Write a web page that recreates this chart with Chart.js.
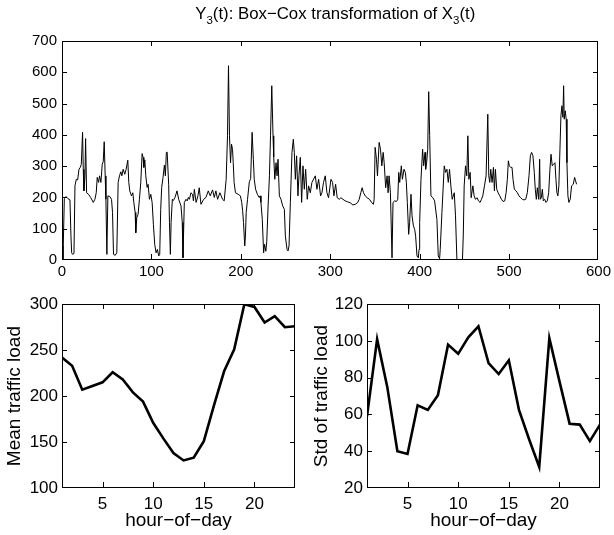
<!DOCTYPE html>
<html>
<head>
<meta charset="utf-8">
<script src="https://cdn.jsdelivr.net/npm/chart.js@4/dist/chart.umd.min.js"></script>
<style>
  html, body { margin: 0; background: #fff; overflow: hidden; }
  #wrap { position: relative; width: 614px; height: 535px; }
  canvas { position: absolute; }
</style>
</head>
<body>
<div id="wrap">
  <canvas id="seriesChart" width="614" height="290" style="left:0;top:0"></canvas>
  <canvas id="meanChart" width="307" height="245" style="left:0;top:290px"></canvas>
  <canvas id="stdChart" width="307" height="245" style="left:307px;top:290px"></canvas>
</div>
<script>
// Y3(t) series: sample index and transformed load
var seriesT = [
  0,1.1,2.6,4.5,6.7,8.9,10,10.8,11.9,13.4,
  14.5,16,17.5,19,20.4,21.6,23,23.8,24.5,25.7,
  26.4,27.5,29.7,32,35,36.8,38.3,39.4,40.9,42,
  43.5,45,46.1,47.2,48.3,49.1,50.2,51.3,53.5,55.4,
  56.5,57.6,59.5,61.3,62.8,64.3,65.8,66.9,68.4,70.2,
  71.7,73.6,74.7,75.8,77.7,79.2,80.3,81.8,82.5,83.6,
  85.1,86.6,88.1,89.6,90.7,91.5,92.6,93.7,95.2,96.3,
  97.8,99.3,100.8,102.2,103.7,105.2,106.7,108.2,109.3,110.4,
  111.5,113,114.5,115.6,116.7,117.6,119.3,120.2,121.2,122,
  123.4,124.5,126.4,128.6,130.5,133.1,134.5,135.3,136.8,138.7,
  140,141.3,142.5,144.2,146,147,148,150,152,153.5,
  155.4,158.4,161,163.6,165.8,168.4,170.3,172.1,174,176.6,
  179.6,181.4,183.6,185.1,186.2,187.3,188.5,189.6,190.7,191.5,
  192.5,194,197,199.5,201,202,203,204.4,205.2,206,
  207.5,209.5,211,212.6,214,215,216.5,218.5,220.5,221.5,
  222.5,224,225.5,226.5,228,229,230.5,232,233.2,234.6,
  236,236.8,238,239.4,240.5,241.6,243.1,244.9,246.8,248.7,
  249.8,251.7,252.8,253.9,255.4,257.2,258.7,259.8,261,262.4,
  263.9,265,266.5,268,269.5,271,272.5,274.3,275.8,277.7,
  279.5,283.3,285.1,287,289.2,290.7,292.5,294.4,296.3,298.1,
  300.8,302.6,304.1,306,307.8,310.1,311.9,314.2,316.7,319.4,
  322.3,325.3,327.9,330.5,332.4,334.2,335.7,337.2,339.1,341.3,
  343.9,346.5,348.3,349.1,350.2,351.7,352.8,354.7,356.2,357.7,
  359.2,360.3,362,363.6,364.7,365.8,367.3,369.1,370.2,372.1,
  374,375.5,376.6,377.7,379.5,380.7,382.5,384,385.1,386.2,
  387.7,388.8,390.3,391.5,393,394.4,395.5,397,398.5,399.3,
  400,401.5,403.3,404.5,406,406.7,407.8,409,410.1,411.2,
  412.6,414.8,416.7,419.3,420.8,422.3,423,424.9,427.5,429,
  430.5,432,433.4,434.9,436.4,438.7,440.1,442,447.5,448.8,
  449.8,451.3,452.7,453.9,455,456.5,457.6,459.5,460.9,462.4,
  464.3,465.8,467.6,469.1,470.6,472.5,474.3,476.2,477.3,478.4,
  479.5,481,482.5,483.6,484.7,486.2,487.7,489.6,491.5,493.3,
  495.2,496.7,498.1,499.2,500.3,501.8,503.3,504.4,505.9,507.8,
  509.3,511.1,513,514.8,516.7,518.6,520.4,522.3,523.8,525.2,
  526.7,528.2,529.3,530.5,531.6,533.1,534.2,534.9,536.1,537.2,
  538.3,539.8,541.3,542.8,544.3,545.7,546.9,548.3,549.8,551.3,
  552.4,553.5,554.6,555.7,556.9,558,559.1,560.2,561,561.7,
  562.8,563.9,564.7,565.8,566.9,568.4,569.9,571.8,573.3,574.4,
  575.5
];
var seriesY = [
  45,4,196,203,196,192,77,23,18,21,
  237,258,256,290,296,306,408,290,221,269,
  388,215,210,200,184,194,215,264,248,269,
  248,306,314,378,269,194,18,205,203,194,
  152,18,15,23,248,269,282,269,290,274,
  290,319,248,221,205,215,184,152,87,135,
  146,194,248,340,328,296,320,269,232,242,
  194,210,184,114,50,23,34,13,18,162,
  232,264,303,269,344,345,242,120,18,120,
  194,190,200,221,194,173,120,7,184,194,
  189,200,194,215,210,189,226,184,205,231,
  178,194,200,221,205,224,200,221,194,215,
  194,189,258,397,621,397,311,370,354,311,
  248,215,210,205,184,158,120,45,80,152,
  194,250,260,408,322,258,226,210,200,205,
  184,130,23,50,28,60,173,269,397,557,
  397,329,258,311,269,322,205,194,173,162,
  77,34,29,45,184,344,386,344,258,333,
  205,269,328,184,301,226,290,194,237,215,
  248,269,226,258,205,215,248,269,215,199,
  258,248,205,242,199,194,199,194,189,186,
  183,176,178,183,194,215,231,215,205,199,
  194,183,178,194,360,322,269,376,354,301,
  344,311,231,269,215,269,215,7,184,189,
  187,194,280,248,301,258,290,280,248,184,
  82,120,210,141,109,98,77,13,7,34,
  120,258,354,301,344,290,311,354,538,397,
  205,199,189,130,13,4,34,152,301,280,
  290,248,290,237,194,215,141,-30,-30,80,
  237,301,269,397,258,280,199,237,205,194,
  199,189,184,194,205,237,269,466,269,248,
  290,248,296,221,290,226,215,205,194,187,
  189,215,258,317,301,296,296,258,226,221,
  215,205,199,194,192,194,215,269,333,344,
  333,280,226,194,231,194,322,194,199,226,
  189,194,184,189,215,290,338,301,306,311,
  258,215,205,237,354,461,493,456,557,450,
  477,450,311,205,184,194,237,242,264,253,
  242
];

// hourly profile
var hours = [1,2,3,4,5,6,7,8,9,10,11,12,13,14,15,16,17,18,19,20,21,22,23,24];
var meanLoad = [242,233,207,211,215,226,218,204,194,171,154,138,130,133,151,190,227,251,300,297,280,287,275,276];
var stdLoad = [59,101,75,40,38.5,65,62.5,70.5,98,93,102,108,88,82,89.5,62.5,46.5,31.5,101.5,78,55,54.5,45.5,54.5];
var hourTicks = [5, 10, 15, 20];

var FONT = "'Liberation Sans', Arial, Helvetica, sans-serif";

// box around the plot area with inward tick marks on all four sides
var boxTicks = {
  id: "boxTicks",
  afterDraw: function (chart) {
    var ctx = chart.ctx, a = chart.chartArea;
    var xs = chart.scales.x, ys = chart.scales.y;
    var len = 5;
    var l = Math.round(a.left), r = Math.round(a.right) - 1;
    var t = Math.round(a.top), b = Math.round(a.bottom) - 1;
    ctx.save();
    ctx.fillStyle = "#000";
    // frame
    ctx.fillRect(l, t, r - l + 1, 1);
    ctx.fillRect(l, b, r - l + 1, 1);
    ctx.fillRect(l, t, 1, b - t + 1);
    ctx.fillRect(r, t, 1, b - t + 1);
    xs.ticks.forEach(function (tk) {
      var px = Math.min(Math.round(xs.getPixelForValue(tk.value)), r);
      ctx.fillRect(px, b - len, 1, len);
      ctx.fillRect(px, t, 1, len);
    });
    ys.ticks.forEach(function (tk) {
      var py = Math.min(Math.round(ys.getPixelForValue(tk.value)), b);
      ctx.fillRect(l, py, len, 1);
      ctx.fillRect(r - len + 1, py, len, 1);
    });
    ctx.restore();
  }
};

// title with subscripted indices
var titleParts = [["Y", false], ["3", true], ["(t): Box\u2212Cox transformation of X", false], ["3", true], ["(t)", false]];
var subTitle = {
  id: "subTitle",
  afterDraw: function (chart) {
    var ctx = chart.ctx, a = chart.chartArea;
    var big = "16.8px " + FONT, small = "11.5px " + FONT;
    ctx.save();
    ctx.fillStyle = "#000";
    ctx.textBaseline = "alphabetic";
    ctx.textAlign = "left";
    var total = 0;
    titleParts.forEach(function (p) {
      ctx.font = p[1] ? small : big;
      total += ctx.measureText(p[0]).width;
    });
    var x = (a.left + a.right) / 2 + 5 - total / 2;
    titleParts.forEach(function (p) {
      ctx.font = p[1] ? small : big;
      ctx.fillText(p[0], x, p[1] ? 24 : 19);
      x += ctx.measureText(p[0]).width;
    });
    ctx.restore();
  }
};

function toPoints(xs, ys) {
  return xs.map(function (v, i) { return { x: v, y: ys[i] }; });
}

new Chart(document.getElementById("seriesChart"), {
  type: "line",
  data: {
    datasets: [{
      data: toPoints(seriesT, seriesY),
      borderColor: "#000",
      borderWidth: 1,
      pointRadius: 0,
      tension: 0
    }]
  },
  options: {
    responsive: false,
    animation: false,
    devicePixelRatio: 1,
    layout: { padding: { left: 0, right: 14, top: 41, bottom: 0 } },
    plugins: { legend: { display: false }, tooltip: { enabled: false } },
    scales: {
      x: {
        type: "linear", min: 0, max: 600,
        ticks: { stepSize: 100, color: "#000", padding: 3, maxRotation: 0, font: { family: FONT, size: 15 } },
        grid: { display: false, drawTicks: false }, border: { display: false },
        afterFit: function (s) { s.height = 30; }
      },
      y: {
        min: 0, max: 700,
        ticks: { stepSize: 100, color: "#000", padding: 5, font: { family: FONT, size: 15 } },
        grid: { display: false, drawTicks: false }, border: { display: false },
        afterFit: function (s) { s.width = 62; }
      }
    }
  },
  plugins: [boxTicks, subTitle]
});

function hourChart(id, values, yMin, yMax, yStep, yLabel, axisWidth) {
  return new Chart(document.getElementById(id), {
    type: "line",
    data: {
      datasets: [{
        data: toPoints(hours, values),
        borderColor: "#000",
        borderWidth: 2.6,
        pointRadius: 0,
        tension: 0
      }]
    },
    options: {
      responsive: false,
      animation: false,
      devicePixelRatio: 1,
      layout: { padding: { left: 0, right: 307 - 233 - axisWidth, top: 11, bottom: 0 } },
      plugins: { legend: { display: false }, tooltip: { enabled: false } },
      scales: {
        x: {
          type: "linear", min: 1, max: 24,
          afterBuildTicks: function (s) { s.ticks = hourTicks.map(function (v) { return { value: v }; }); },
          ticks: { color: "#000", padding: 6, maxRotation: 0, font: { family: FONT, size: 17 } },
          title: { display: true, text: "hour\u2212of\u2212day", color: "#000", padding: { top: 0, bottom: 3 }, font: { family: FONT, size: 19 } },
          grid: { display: false, drawTicks: false }, border: { display: false },
          afterFit: function (s) { s.height = 47; }
        },
        y: {
          min: yMin, max: yMax,
          ticks: { stepSize: yStep, color: "#000", padding: 4, font: { family: FONT, size: 17 } },
          title: { display: true, text: yLabel, color: "#000", padding: { top: 3, bottom: 0 }, font: { family: FONT, size: 19 } },
          grid: { display: false, drawTicks: false }, border: { display: false },
          afterFit: function (s) { s.width = axisWidth; }
        }
      }
    },
    plugins: [boxTicks]
  });
}

hourChart("meanChart", meanLoad, 100, 300, 50, "Mean traffic load", 62);
hourChart("stdChart", stdLoad, 20, 120, 20, "Std of traffic load", 60);
</script>
</body>
</html>
